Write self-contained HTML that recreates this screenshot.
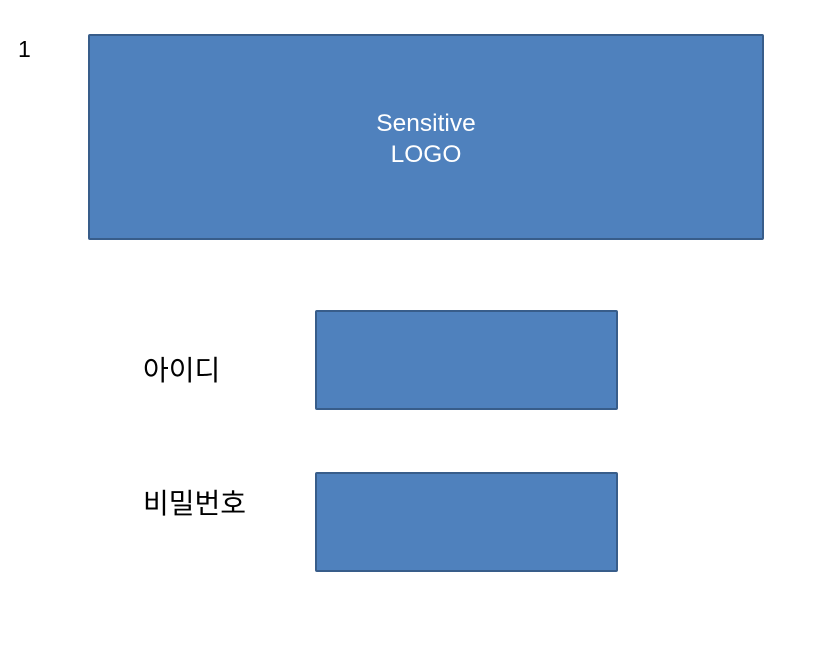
<!DOCTYPE html>
<html><head><meta charset="utf-8"><style>
body{margin:0;width:830px;height:650px;background:#fff;position:relative;overflow:hidden;font-family:"Liberation Sans","Noto Sans CJK KR","NanumGothic",sans-serif}
.box{position:absolute;background:#4f81bd;border:2px solid #385d8a;box-sizing:border-box;border-radius:2px}
.t{position:absolute;font-size:23px;color:#000;line-height:1}
.k{font-size:28px}
</style></head><body>
<div class="t" style="left:18px;top:38px">1</div>
<div class="box" style="left:88px;top:34px;width:676px;height:206px">
<div style="position:absolute;left:0;right:0;top:72px;text-align:center;color:#fff;font-size:24.5px;line-height:31px">Sensitive<br>LOGO</div>
</div>
<div class="t k" style="left:143px;top:357px">아이디</div>
<div class="box" style="left:315px;top:310px;width:303px;height:100px"></div>
<div class="t k" style="left:143px;top:490px">비밀번호</div>
<div class="box" style="left:315px;top:472px;width:303px;height:100px"></div>
</body></html>
